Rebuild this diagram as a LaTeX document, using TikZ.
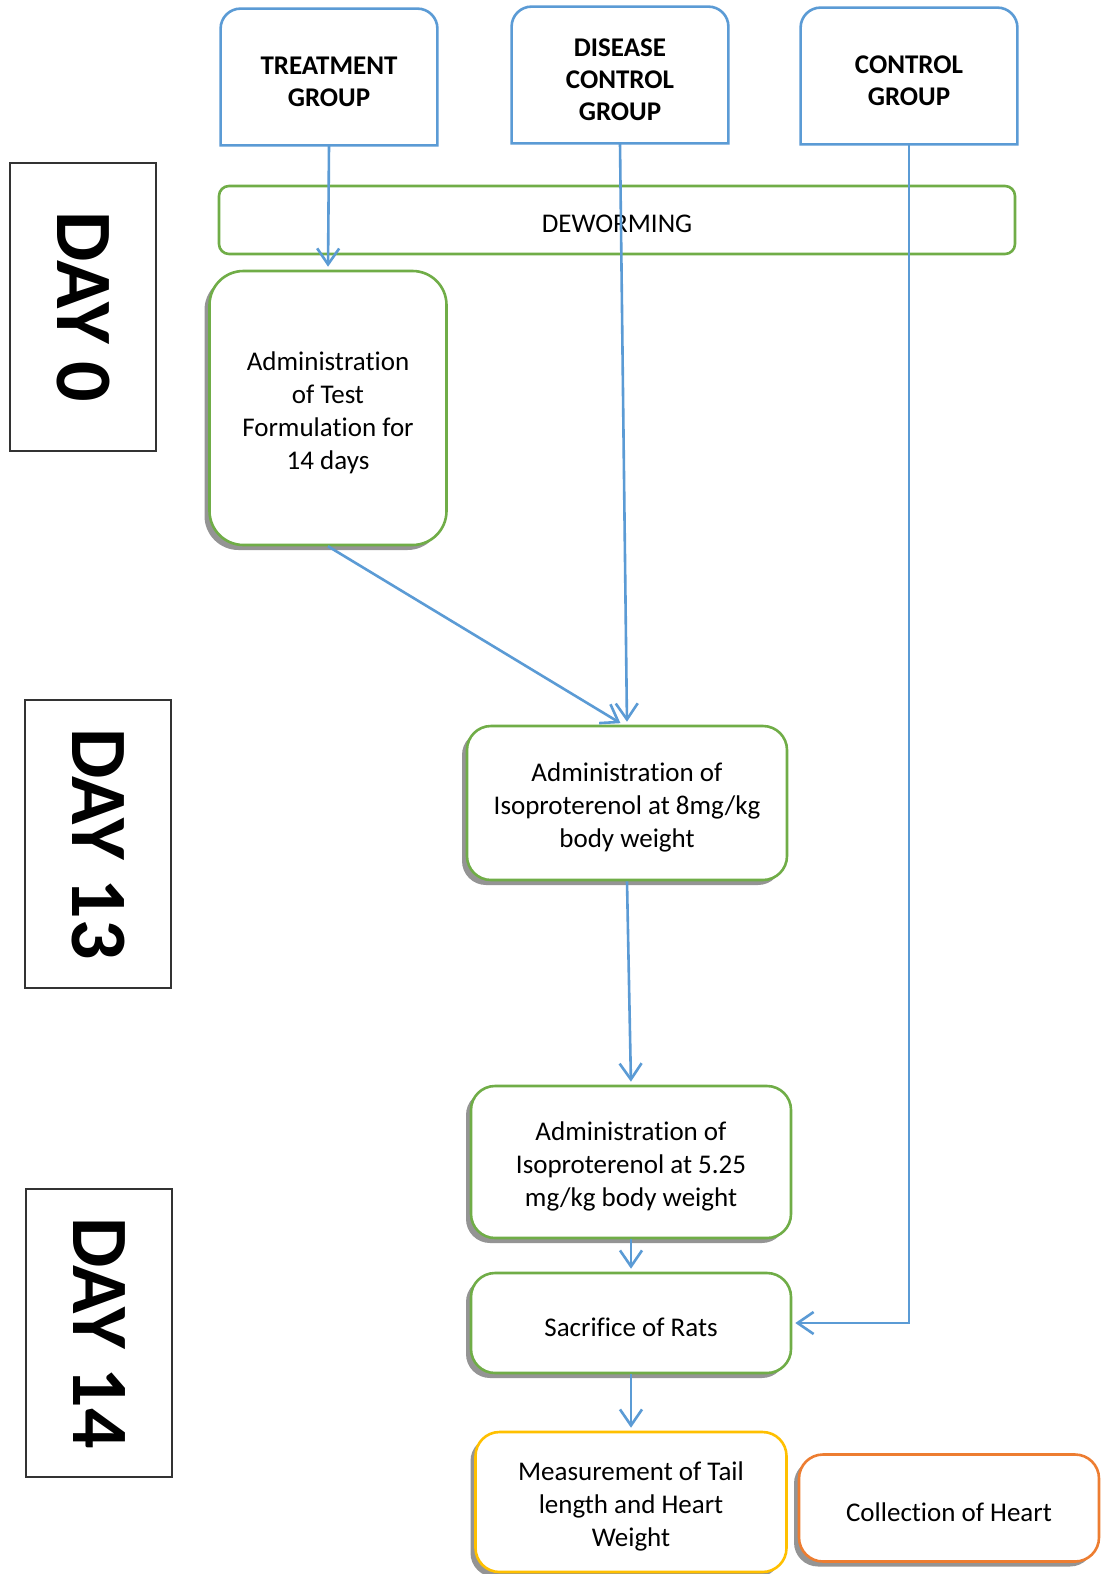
\documentclass[tikz,border=0pt]{standalone}
\usepackage{fontspec}
\setmainfont{Carlito}[Ligatures={NoCommon,NoRare}]
\usetikzlibrary{arrows.meta,shadows}

\definecolor{grpblue}{RGB}{91,155,213}
\definecolor{boxgreen}{RGB}{112,173,71}
\definecolor{measgold}{RGB}{255,192,0}
\definecolor{collorange}{RGB}{237,125,49}

\begin{document}
\begin{tikzpicture}[x=0.5pt,y=-0.5pt,
    grp/.style={minimum width=108pt, minimum height=68pt, align=center,
      font=\fontsize{13.5}{16}\selectfont\bfseries},
    grpline/.style={draw=grpblue, line width=1.3pt},
    flowbox/.style={draw=boxgreen, line width=1.3pt, fill=white, rounded corners=12pt,
      align=center, font=\fontsize{13.5}{16.5}\selectfont,
      drop shadow={shadow xshift=-2.5pt, shadow yshift=-2.5pt, fill=black!42, opacity=1}},
    daybox/.style={draw=black!80, line width=0.6pt, rotate=-90,
      minimum width=144pt, minimum height=73pt,
      font=\fontsize{40}{44}\selectfont\bfseries},
    arr/.style={draw=grpblue, line width=1.3pt, shorten >=1.5pt,
      -{Straight Barb[length=8pt,width=11pt]}}]

	\path[use as bounding box, fill=white] (0,0) rectangle (1102,1574);

	% day labels
	\node[daybox] (day0) at (83,307) {DAY 0};
	\node[daybox] (day13) at (98,844) {DAY 13};
	\node[daybox] (day14) at (99,1333) {DAY 14};

	% groups
	\node[grp] (treat) at (329,77) {\rule{0pt}{14pt}TREATMENT\\GROUP};
	\node[grp] (dis) at (620,75) {\rule{0pt}{14pt}DISEASE\\CONTROL\\GROUP};
	\node[grp] (ctrl) at (909,76) {\rule{0pt}{14pt}CONTROL\\GROUP};
	\foreach \g in {treat,dis,ctrl}
		\draw[grpline] (\g.south west) [rounded corners=10pt] -- (\g.north west)
			-- (\g.north east) [sharp corners] -- (\g.south east) -- cycle;

	% deworming
	\node[draw=boxgreen, line width=1.3pt, rounded corners=5pt, minimum width=398pt,
		minimum height=34pt, font=\fontsize{13.5}{16}\selectfont] (dew) at (617,220)
		{\rule{0pt}{13pt}DEWORMING};

	% steps
	\node[flowbox, rounded corners=17pt, minimum width=118.5pt, minimum height=137pt] (test) at (328,408)
		{\rule{0pt}{14pt}Administration\\of Test\\Formulation for\\14 days};
	\node[flowbox, minimum width=160pt, minimum height=77pt] (iso8) at (627,803)
		{\rule{0pt}{14pt}Administration of\\Isoproterenol at 8mg/kg\\body weight};
	\node[flowbox, minimum width=160pt, minimum height=76pt] (iso525) at (631,1162)
		{\rule{0pt}{14pt}Administration of\\Isoproterenol at 5.25\\mg/kg body weight};
	\node[flowbox, minimum width=160pt, minimum height=50pt] (sac) at (631,1323)
		{\rule{0pt}{14pt}Sacrifice of Rats};
	\node[flowbox, draw=measgold, minimum width=155.5pt, minimum height=70pt] (meas) at (631,1502)
		{\rule{0pt}{14pt}Measurement of Tail\\length and Heart\\Weight};
	\node[flowbox, draw=collorange, minimum width=150pt, minimum height=53.5pt] (coll) at (949,1508)
		{\rule{0pt}{14pt}Collection of Heart};

	% arrows
	\draw[arr] (treat.south) -- (test.north);
	\draw[arr] (dis.south) -- (iso8.north);
	\draw[arr] (test.south) -- ([xshift=-2pt]iso8.north);
	\draw[arr] (iso8.south) -- (iso525.north);
	\draw[arr] (iso525.south) -- (sac.north);
	\draw[arr] (sac.south) -- (meas.north);
	\draw[arr] (ctrl.south) |- (sac.east);
\end{tikzpicture}
\end{document}
